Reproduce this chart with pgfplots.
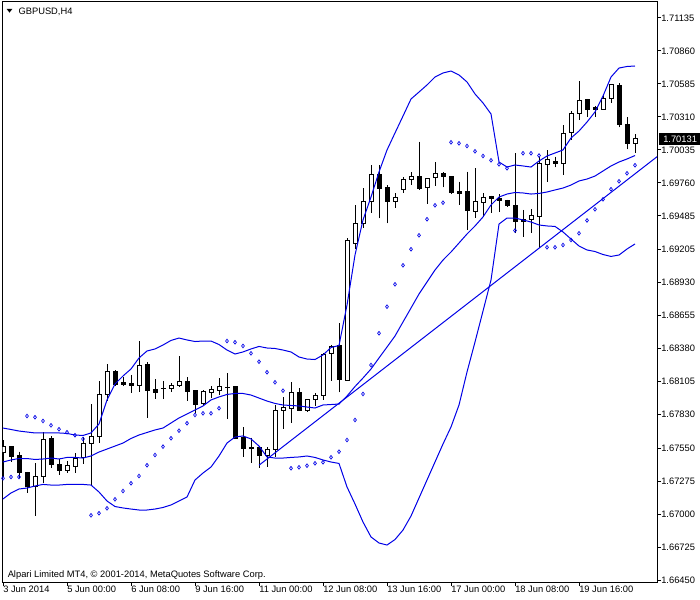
\documentclass[border=0pt]{standalone}
\usepackage{fontspec}
\setmainfont{Liberation Sans}
\usepackage{pgfplots}
\usepackage{pgfplotstable}
\pgfplotsset{compat=1.18}
\usepgfplotslibrary{statistics}
\definecolor{mtblue}{RGB}{0,0,230}

\pgfplotstableread{
k o h l c
0 1.67518 1.67618 1.67310 1.67560
1 1.67560 1.67565 1.67438 1.67479
2 1.67493 1.67521 1.67302 1.67346
3 1.67349 1.67352 1.67179 1.67229
4 1.67229 1.67424 1.66988 1.67318
5 1.67313 1.67688 1.67258 1.67624
6 1.67627 1.67652 1.67385 1.67410
7 1.67416 1.67458 1.67327 1.67363
8 1.67363 1.67446 1.67346 1.67402
9 1.67396 1.67513 1.67346 1.67466
10 1.67471 1.67646 1.67416 1.67591
11 1.67591 1.67918 1.67243 1.67646
12 1.67646 1.68113 1.67596 1.67999
13 1.67999 1.68252 1.67943 1.68191
14 1.68191 1.68198 1.68068 1.68079
15 1.68096 1.68146 1.68068 1.68083
16 1.68093 1.68160 1.68013 1.68074
17 1.68074 1.68443 1.68021 1.68235
18 1.68246 1.68266 1.67804 1.68029
19 1.68043 1.68124 1.67960 1.68013
20 1.68049 1.68110 1.67958 1.68047
21 1.68046 1.68096 1.68018 1.68074
22 1.68071 1.68318 1.68063 1.68108
23 1.68108 1.68141 1.67946 1.68021
24 1.68027 1.68027 1.67841 1.67916
25 1.67924 1.68035 1.67910 1.68024
26 1.68016 1.68068 1.67966 1.68035
27 1.68033 1.68138 1.67993 1.68060
28 1.68058 1.68174 1.67793 1.68056
29 1.68063 1.68068 1.67633 1.67633
30 1.67638 1.67724 1.67479 1.67549
31 1.67558 1.67638 1.67429 1.67546
32 1.67558 1.67571 1.67388 1.67488
33 1.67488 1.67563 1.67396 1.67535
34 1.67535 1.67910 1.67479 1.67868
35 1.67866 1.67974 1.67708 1.67885
36 1.67883 1.68099 1.67763 1.68016
37 1.68016 1.68049 1.67863 1.67863
38 1.67868 1.67963 1.67854 1.67952
39 1.67952 1.68008 1.67902 1.67985
40 1.67985 1.68346 1.67952 1.68333
41 1.68341 1.68410 1.68113 1.68396
42 1.68402 1.68591 1.68016 1.68124
43 1.68118 1.69299 1.68113 1.69277
44 1.69258 1.69577 1.69210 1.69424
45 1.69424 1.69716 1.69383 1.69604
46 1.69604 1.69910 1.69508 1.69827
47 1.69827 1.69910 1.69466 1.69710
48 1.69724 1.69743 1.69424 1.69604
49 1.69608 1.69674 1.69549 1.69641
50 1.69708 1.69813 1.69679 1.69791
51 1.69791 1.69849 1.69743 1.69816
52 1.69816 1.70104 1.69702 1.69716
53 1.69724 1.69804 1.69585 1.69799
54 1.69808 1.69933 1.69735 1.69841
55 1.69841 1.69849 1.69724 1.69813
56 1.69818 1.69818 1.69668 1.69679
57 1.69691 1.69771 1.69577 1.69674
58 1.69685 1.69854 1.69368 1.69529
59 1.69521 1.69883 1.69466 1.69602
60 1.69599 1.69679 1.69474 1.69641
61 1.69646 1.69654 1.69513 1.69629
62 1.69627 1.69668 1.69518 1.69613
63 1.69618 1.69622 1.69568 1.69571
64 1.69574 1.70008 1.69341 1.69438
65 1.69458 1.69535 1.69313 1.69443
66 1.69458 1.69541 1.69341 1.69485
67 1.69479 1.69979 1.69216 1.69924
68 1.69916 1.70035 1.69771 1.69952
69 1.69943 1.69979 1.69891 1.69921
70 1.69924 1.70243 1.69827 1.70174
71 1.70179 1.70363 1.70118 1.70335
72 1.70335 1.70610 1.70285 1.70446
73 1.70458 1.70460 1.70313 1.70374
74 1.70391 1.70402 1.70313 1.70374
75 1.70374 1.70493 1.70372 1.70466
76 1.70466 1.70585 1.70424 1.70583
77 1.70574 1.70591 1.70224 1.70249
78 1.70249 1.70308 1.70041 1.70091
79 1.70091 1.70168 1.70013 1.70131
}\candles

\pgfplotstableread{
k up mid lo sar
0 1.67718 1.67435 1.67127 1.67299
1 1.67706 1.67452 1.67177 1.67310
2 1.67693 1.67464 1.67210 1.67310
3 1.67685 1.67464 1.67218 1.67818
4 1.67677 1.67456 1.67235 1.67808
5 1.67677 1.67460 1.67248 1.67777
6 1.67677 1.67468 1.67243 1.67741
7 1.67677 1.67460 1.67243 1.67708
8 1.67673 1.67473 1.67248 1.67683
9 1.67660 1.67473 1.67248 1.67658
10 1.67656 1.67468 1.67248 1.67627
11 1.67677 1.67485 1.67243 1.66991
12 1.67752 1.67518 1.67185 1.67008
13 1.67952 1.67543 1.67110 1.67049
14 1.68085 1.67568 1.67064 1.67124
15 1.68152 1.67593 1.67052 1.67193
16 1.68210 1.67631 1.67043 1.67258
17 1.68302 1.67660 1.67035 1.67318
18 1.68360 1.67681 1.67035 1.67408
19 1.68377 1.67702 1.67043 1.67493
20 1.68410 1.67718 1.67056 1.67563
21 1.68448 1.67760 1.67077 1.67633
22 1.68468 1.67802 1.67110 1.67696
23 1.68452 1.67835 1.67143 1.67758
24 1.68439 1.67868 1.67285 1.67827
25 1.68443 1.67902 1.67343 1.67841
26 1.68443 1.67952 1.67393 1.67841
27 1.68414 1.67977 1.67485 1.67883
28 1.68368 1.67998 1.67593 1.68443
29 1.68335 1.68006 1.67643 1.68433
30 1.68352 1.68006 1.67652 1.68402
31 1.68377 1.67993 1.67627 1.68341
32 1.68398 1.67968 1.67568 1.68271
33 1.68385 1.67943 1.67477 1.68183
34 1.68381 1.67923 1.67468 1.68099
35 1.68368 1.67910 1.67468 1.68029
36 1.68352 1.67906 1.67473 1.67383
37 1.68310 1.67902 1.67477 1.67391
38 1.68293 1.67893 1.67485 1.67404
39 1.68289 1.67885 1.67473 1.67424
40 1.68327 1.67910 1.67452 1.67433
41 1.68389 1.67914 1.67435 1.67474
42 1.68406 1.67918 1.67423 1.67521
43 1.68743 1.67985 1.67227 1.67618
44 1.69160 1.68064 1.67085 1.67785
45 1.69452 1.68135 1.66935 1.68002
46 1.69643 1.68210 1.66810 1.68243
47 1.69852 1.68302 1.66760 1.68508
48 1.70035 1.68393 1.66743 1.68729
49 1.70177 1.68485 1.66789 1.68916
50 1.70318 1.68602 1.66868 1.69074
51 1.70460 1.68718 1.66985 1.69208
52 1.70518 1.68835 1.67135 1.69324
53 1.70577 1.68935 1.67285 1.69458
54 1.70643 1.69035 1.67435 1.69574
55 1.70677 1.69118 1.67585 1.69596
56 1.70693 1.69185 1.67727 1.70099
57 1.70660 1.69260 1.67910 1.70091
58 1.70602 1.69335 1.68185 1.70068
59 1.70502 1.69402 1.68435 1.70024
60 1.70427 1.69477 1.68693 1.69985
61 1.70335 1.69577 1.68952 1.69949
62 1.69935 1.69643 1.69418 1.69916
63 1.69893 1.69668 1.69468 1.69883
64 1.69910 1.69681 1.69468 1.69364
65 1.69902 1.69677 1.69452 1.70008
66 1.69893 1.69668 1.69435 1.70008
67 1.69943 1.69673 1.69410 1.69989
68 1.69985 1.69685 1.69402 1.69224
69 1.70010 1.69702 1.69398 1.69224
70 1.70035 1.69718 1.69352 1.69243
71 1.70135 1.69743 1.69293 1.69285
72 1.70193 1.69777 1.69235 1.69341
73 1.70268 1.69793 1.69202 1.69448
74 1.70352 1.69818 1.69189 1.69541
75 1.70485 1.69860 1.69164 1.69624
76 1.70643 1.69902 1.69148 1.69708
77 1.70718 1.69935 1.69160 1.69774
78 1.70731 1.69960 1.69210 1.69841
79 1.70735 1.69989 1.69252 1.69908
}\bands

\begin{document}
\begin{tikzpicture}
\begin{axis}[
  at={(1.875pt,13.5pt)}, anchor=south west,
  width=490.875pt, height=435.375pt, scale only axis,
  xmin=-0.0625, xmax=81.75, ymin=1.66435, ymax=1.712725,
  axis line style={line width=0.75pt, black},
  scaled ticks=false,
  xtick={0,8,...,72},
  xticklabels={3 Jun 2014,5 Jun 00:00,6 Jun 08:00,9 Jun 16:00,11 Jun 00:00,12 Jun 08:00,13 Jun 16:00,17 Jun 00:00,18 Jun 08:00,19 Jun 16:00},
  ytick={1.66450,1.66725,1.67000,1.67275,1.67550,1.67830,1.68105,1.68380,1.68655,1.68930,1.69205,1.69485,1.69760,1.70035,1.70310,1.70585,1.70860,1.71135},
  yticklabels={1.66450,1.66725,1.67000,1.67275,1.67550,1.67830,1.68105,1.68380,1.68655,1.68930,1.69205,1.69485,1.69760,1.70035,1.70310,1.70585,1.70860,1.71135},
  xtick pos=bottom, ytick pos=right, yticklabel pos=right,
  tick align=outside, major tick length=3pt,
  every tick/.style={black, line width=0.75pt},
  tick label style={font=\fontsize{7}{8}\selectfont, black},
  yticklabel style={anchor=west, inner sep=0pt},
  xticklabel style={anchor=north west, inner sep=0pt},
  boxplot/draw direction=y,
]
\pgfplotsinvokeforeach{0,...,79}{
  \pgfplotstablegetelem{#1}{o}\of\candles \let\cO\pgfplotsretval
  \pgfplotstablegetelem{#1}{h}\of\candles \let\cH\pgfplotsretval
  \pgfplotstablegetelem{#1}{l}\of\candles \let\cL\pgfplotsretval
  \pgfplotstablegetelem{#1}{c}\of\candles \let\cC\pgfplotsretval
  \ifdim\cC pt<\cO pt
    \let\cLo\cC \let\cHi\cO \def\cF{black}%
  \else
    \let\cLo\cO \let\cHi\cC \def\cF{white}%
  \fi
  \edef\doplot{\noexpand\addplot[draw=black, fill=\cF, line width=0.75pt, boxplot prepared={draw position=#1, lower whisker=\cL, lower quartile=\cLo, median=\cLo, upper quartile=\cHi, upper whisker=\cH, box extend=0.5, whisker extend=0}] coordinates {};}%
  \doplot
}
\addplot[mtblue, line width=0.75pt] table[x=k, y=up] {\bands};
\addplot[mtblue, line width=0.75pt] table[x=k, y=mid] {\bands};
\addplot[mtblue, line width=0.75pt] table[x=k, y=lo] {\bands};
\addplot[mtblue, only marks, mark=diamond, mark size=1.4pt, mark options={line width=0.5pt, fill=white}] table[x=k, y=sar] {\bands};
\addplot[mtblue, line width=0.75pt] coordinates {(32,1.67408) (84,1.70095)};
\end{axis}
\begin{scope}[x=0.75pt, y=-0.75pt, shift={(0pt,450pt)}]
  \fill[black] (6.7,9) -- (12.3,9) -- (9.5,12.6) -- cycle;
  \node[anchor=base west, inner sep=0pt, font=\fontsize{7}{8}\selectfont] at (18.3,14.3) {GBPUSD,H4};
  \node[anchor=base west, inner sep=0pt, font=\fontsize{7}{8}\selectfont] at (7.5,577.7) {Alpari Limited MT4, © 2001-2014, MetaQuotes Software Corp.};
  \fill[black] (659,133.3) rectangle (700,144.7);
  \node[anchor=base west, inner sep=0pt, text=white, font=\fontsize{7}{8}\selectfont] at (663,142.5) {1.70131};
\end{scope}
\pgfresetboundingbox
\useasboundingbox (0,0) rectangle (525pt,450pt);
\end{tikzpicture}
\end{document}
